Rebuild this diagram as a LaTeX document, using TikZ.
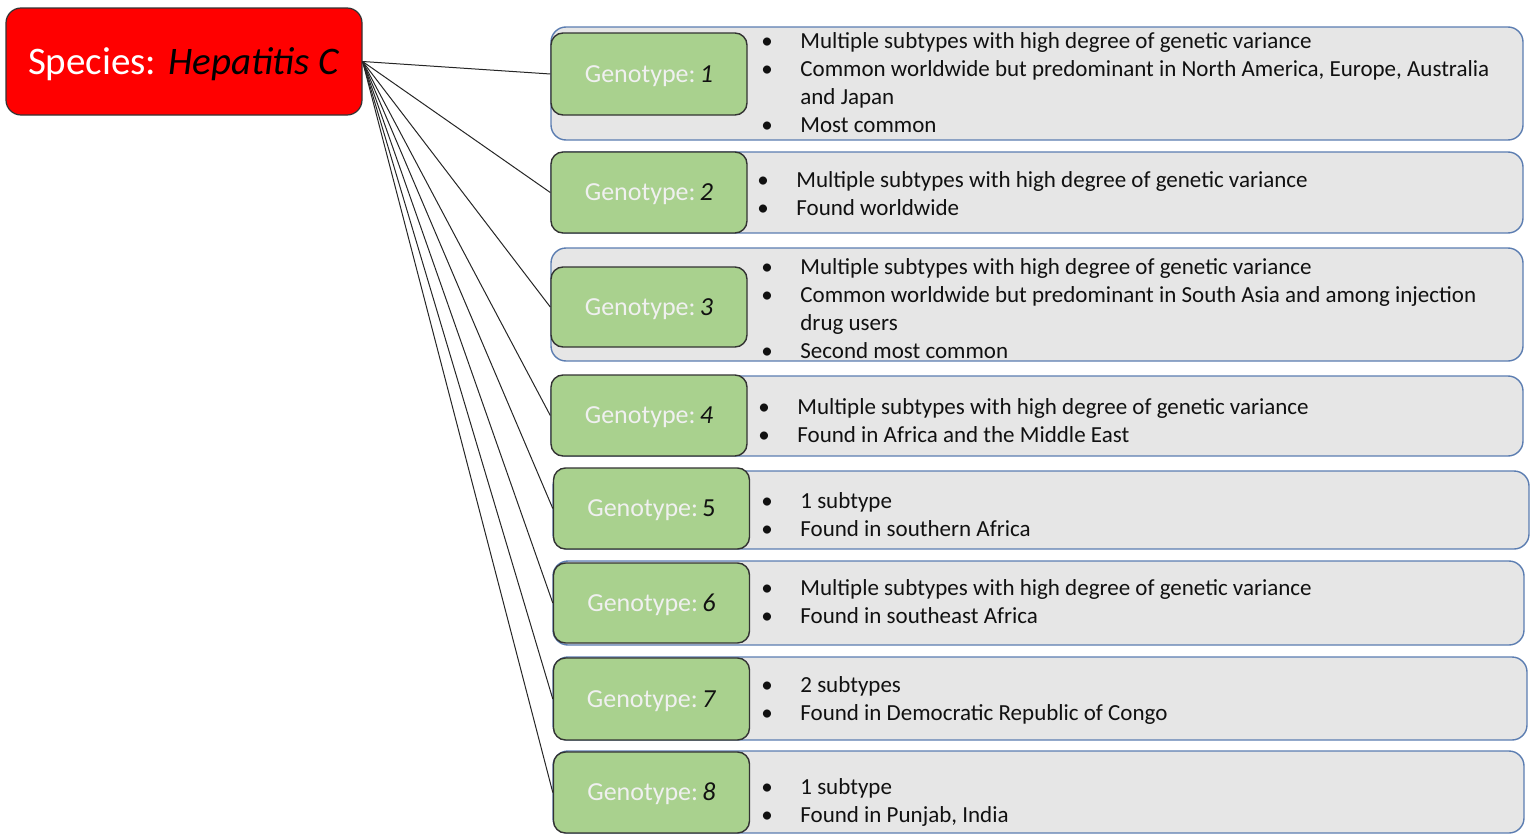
\documentclass[tikz,border=0pt]{standalone}
\usepackage{fontspec}
\setmainfont{Carlito}
\definecolor{hcvred}{HTML}{FF0000}
\definecolor{gtgreen}{HTML}{A9D18E}
\definecolor{infogray}{HTML}{E6E6E6}
\definecolor{infoline}{HTML}{5B7DB1}
\definecolor{inktext}{HTML}{111111}
\newcommand{\bul}{\makebox[19.5pt][l]{•}}
\newcommand{\nob}{\makebox[19.5pt][l]{}}
\newcommand{\gtlabel}[1]{\textcolor{white!94!black}{Genotype:}\,#1}
\begin{document}
\begin{tikzpicture}[x=0.5pt, y=-0.5pt,
  species/.style={draw=black!80,fill=hcvred,rounded corners=7.5pt,line width=0.6pt,minimum width=178pt,minimum height=53.5pt,font=\fontsize{19.5}{22}\selectfont,text height=12.5pt,text depth=0pt},
  geno/.style={draw=black!80,fill=gtgreen,rounded corners=6pt,line width=0.7pt,minimum width=98pt,minimum height=40.5pt,font=\fontsize{13}{15}\selectfont,text=inktext,text height=8.3pt,text depth=0pt},
  detail/.style={draw=infoline,fill=infogray,rounded corners=7.5pt,line width=0.7pt,minimum width=486pt},
  info/.style={anchor=west,inner sep=0pt,align=left,text=inktext,font=\fontsize{11.5}{14}\selectfont},
  link/.style={draw=black!85,line width=0.5pt}]
\useasboundingbox (0,0) rectangle (1533,835);
% species box
\node[species] (hcv) at (184,61.5) {\textcolor{white}{Species:} \textit{Hepatitis C}};
% detail boxes
\node[detail,minimum height=56.5pt] (d1) at (1037,83.5) {};
\node[detail,minimum height=40.5pt] (d2) at (1037,192.5) {};
\node[detail,minimum height=56.5pt] (d3) at (1037,304.5) {};
\node[detail,minimum height=40pt] (d4) at (1037,416) {};
\node[detail,minimum width=488pt,minimum height=39pt] (d5) at (1041,510) {};
\node[detail,minimum width=485.5pt,minimum height=42pt] (d6) at (1038.5,603) {};
\node[detail,minimum width=487pt,minimum height=41.5pt] (d7) at (1040,698.5) {};
\node[detail,minimum width=485.5pt,minimum height=41pt] (d8) at (1038.5,792) {};
% genotype boxes
\node[geno,minimum height=41pt] (g1) at (649,74) {\gtlabel{\textit{1}}};
\node[geno] (g2) at (649,192.5) {\gtlabel{\textit{2}}};
\node[geno,minimum height=40pt] (g3) at (649,307) {\gtlabel{\textit{3}}};
\node[geno] (g4) at (649,415.5) {\gtlabel{\textit{4}}};
\node[geno] (g5) at (651.5,508.5) {\gtlabel{5}};
\node[geno,minimum height=40pt] (g6) at (651.5,603) {\gtlabel{\textit{6}}};
\node[geno,minimum height=41pt] (g7) at (651.5,699) {\gtlabel{\textit{7}}};
\node[geno] (g8) at (651.5,792.5) {\gtlabel{\textit{8}}};
% links
\foreach \g in {g1,g2,g3,g4,g5,g6,g7,g8}
  \draw[link] (hcv.east) -- (\g.west);
% bullet texts
\node[info] (t1) at (761,82.5) {\bul Multiple subtypes with high degree of genetic variance\\
  \bul Common worldwide but predominant in North America, Europe, Australia\\
  \nob and Japan\\
  \bul Most common};
\node[info] (t2) at (757,194) {\bul Multiple subtypes with high degree of genetic variance\\
  \bul Found worldwide};
\node[info] (t3) at (761,308.5) {\bul Multiple subtypes with high degree of genetic variance\\
  \bul Common worldwide but predominant in South Asia and among injection\\
  \nob drug users\\
  \bul Second most common};
\node[info] (t4) at (758,421) {\bul Multiple subtypes with high degree of genetic variance\\
  \bul Found in Africa and the Middle East};
\node[info] (t5) at (761,515) {\bul 1 subtype\\
  \bul Found in southern Africa};
\node[info] (t6) at (761,602) {\bul Multiple subtypes with high degree of genetic variance\\
  \bul Found in southeast Africa};
\node[info] (t7) at (761,700) {\bul 2 subtypes\\
  \bul Found in Democratic Republic of Congo};
\node[info] (t8) at (761,802) {\bul 1 subtype\\
  \bul Found in Punjab, India};
\end{tikzpicture}
\end{document}
